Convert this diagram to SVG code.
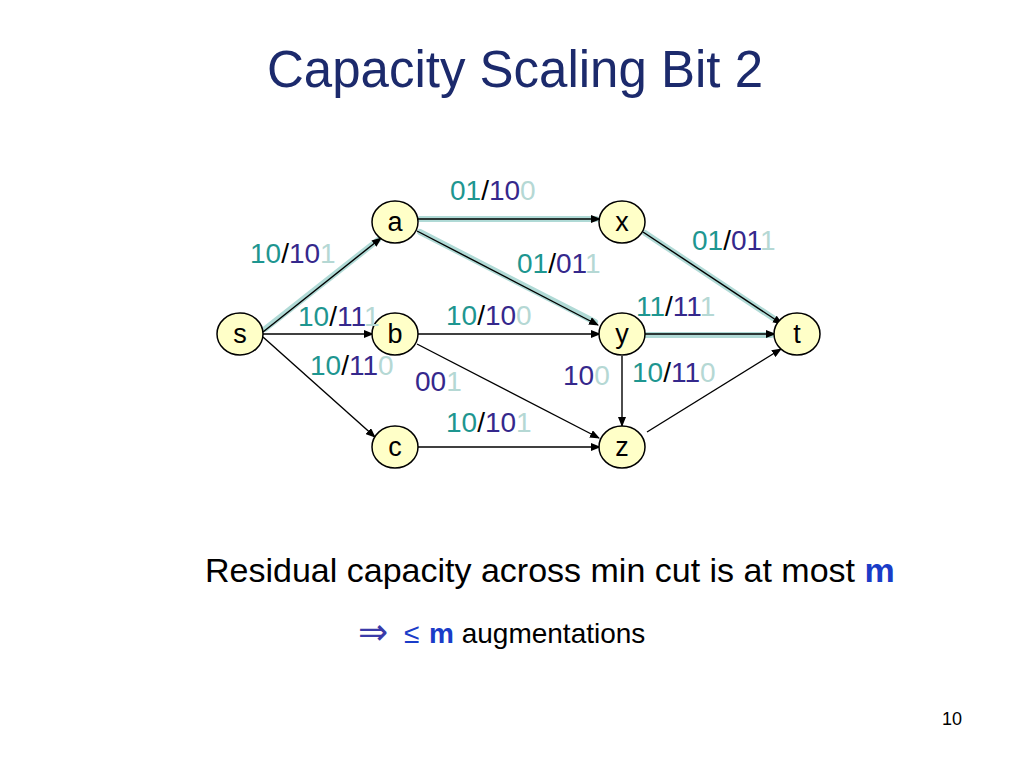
<svg xmlns="http://www.w3.org/2000/svg" width="1024" height="768" viewBox="0 0 1024 768">
<defs>
<marker id="ah" markerWidth="10" markerHeight="8" refX="9" refY="4" orient="auto" markerUnits="userSpaceOnUse">
<path d="M0,0 L10,4 L0,8 Z" fill="#000"/>
</marker>
<style>
.hl{stroke:#b0dad6;stroke-width:6;fill:none;stroke-linecap:round}
.e{stroke:#000;stroke-width:1.4;fill:none;marker-end:url(#ah)}
.n{fill:#ffffc8;stroke:#000;stroke-width:1.5}
.nt{font-family:"Liberation Sans",Arial,sans-serif;font-size:27px;text-anchor:middle;fill:#000}
.lb{font-family:"Liberation Sans",Arial,sans-serif;font-size:28px}
.g{fill:#1e9690}.k{fill:#000}.d{fill:#35288c}.l{fill:#b5d8d4}
</style>
</defs>
<rect width="1024" height="768" fill="#fff"/>
<text x="515" y="87" font-family="'Liberation Sans',Arial,sans-serif" font-size="51" text-anchor="middle" fill="#1c2a6c">Capacity Scaling Bit 2</text>
<g id="connectors">
<line class="hl" x1="265" y1="329" x2="378" y2="240"/>
<line class="hl" x1="420" y1="219" x2="596" y2="219"/>
<line class="hl" x1="420" y1="232" x2="595" y2="322"/>
<line class="hl" x1="645" y1="233" x2="776" y2="320"/>
<line class="hl" x1="646" y1="335" x2="771" y2="335"/>
<line class="e" x1="263" y1="332" x2="381" y2="238"/>
<line class="e" x1="418" y1="219" x2="600" y2="219"/>
<line class="e" x1="417" y1="231" x2="598" y2="325"/>
<line class="e" x1="643" y1="232" x2="782" y2="324"/>
<line class="e" x1="645" y1="334" x2="775" y2="334"/>
<line class="e" x1="263" y1="334" x2="373" y2="334"/>
<line class="e" x1="263" y1="337" x2="375" y2="437"/>
<line class="e" x1="418" y1="334" x2="600" y2="334"/>
<line class="e" x1="417" y1="344" x2="599" y2="438"/>
<line class="e" x1="418" y1="447" x2="600" y2="447"/>
<line class="e" x1="622" y1="356" x2="622" y2="426"/>
<line class="e" x1="647" y1="432" x2="781" y2="349"/>
</g>
<g id="node-a"><ellipse class="n" cx="395" cy="222" rx="23" ry="21"/><text class="nt" x="395" y="231">a</text></g>
<g id="node-x"><ellipse class="n" cx="622" cy="222" rx="23" ry="21"/><text class="nt" x="622" y="231">x</text></g>
<g id="node-s"><ellipse class="n" cx="240" cy="334" rx="23" ry="21"/><text class="nt" x="240" y="343">s</text></g>
<g id="node-b"><ellipse class="n" cx="395" cy="334" rx="23" ry="21"/><text class="nt" x="395" y="343">b</text></g>
<g id="node-y"><ellipse class="n" cx="622" cy="334" rx="23" ry="21"/><text class="nt" x="622" y="343">y</text></g>
<g id="node-t"><ellipse class="n" cx="797" cy="334" rx="23" ry="21"/><text class="nt" x="797" y="343">t</text></g>
<g id="node-c"><ellipse class="n" cx="395" cy="447" rx="23" ry="21"/><text class="nt" x="395" y="456">c</text></g>
<g id="node-z"><ellipse class="n" cx="622" cy="447" rx="23" ry="21"/><text class="nt" x="622" y="456">z</text></g>
<g id="labels">
<text class="lb" x="450" y="200"><tspan class="g">01</tspan><tspan class="k">/</tspan><tspan class="d">10</tspan><tspan class="l">0</tspan></text>
<text class="lb" x="250" y="263"><tspan class="g">10</tspan><tspan class="k">/</tspan><tspan class="d">10</tspan><tspan class="l">1</tspan></text>
<text class="lb" x="517" y="273"><tspan class="g">01</tspan><tspan class="k">/</tspan><tspan class="d">01</tspan><tspan class="l">1</tspan></text>
<text class="lb" x="692" y="250"><tspan class="g">01</tspan><tspan class="k">/</tspan><tspan class="d">01</tspan><tspan class="l">1</tspan></text>
<text class="lb" x="636" y="316"><tspan class="g">11</tspan><tspan class="k">/</tspan><tspan class="d">11</tspan><tspan class="l">1</tspan></text>
<text class="lb" x="298" y="326"><tspan class="g">10</tspan><tspan class="k">/</tspan><tspan class="d">11</tspan><tspan class="l">1</tspan></text>
<text class="lb" x="446" y="325"><tspan class="g">10</tspan><tspan class="k">/</tspan><tspan class="d">10</tspan><tspan class="l">0</tspan></text>
<text class="lb" x="310" y="375"><tspan class="g">10</tspan><tspan class="k">/</tspan><tspan class="d">11</tspan><tspan class="l">0</tspan></text>
<text class="lb" x="415" y="391"><tspan class="d">00</tspan><tspan class="l">1</tspan></text>
<text class="lb" x="563" y="385"><tspan class="d">10</tspan><tspan class="l">0</tspan></text>
<text class="lb" x="632" y="382"><tspan class="g">10</tspan><tspan class="k">/</tspan><tspan class="d">11</tspan><tspan class="l">0</tspan></text>
<text class="lb" x="446" y="432"><tspan class="g">10</tspan><tspan class="k">/</tspan><tspan class="d">10</tspan><tspan class="l">1</tspan></text>
</g>
<text x="205" y="582" font-family="'Liberation Sans',Arial,sans-serif" font-size="34" fill="#000">Residual capacity across min cut is at most <tspan font-weight="bold" fill="#1a3cc8">m</tspan></text>
<text x="358" y="644" font-family="'Liberation Sans',Arial,sans-serif" font-size="28" fill="#000"><tspan font-family="'DejaVu Sans',sans-serif" font-size="36" fill="#3a3aa8">⇒</tspan><tspan x="404" y="643" fill="#1a3cc8">≤</tspan><tspan x="429" y="643" font-weight="bold" fill="#1a3cc8">m</tspan><tspan y="643"> augmentations</tspan></text>
<text x="952" y="725" font-family="'Liberation Sans',Arial,sans-serif" font-size="18" text-anchor="middle" fill="#000">10</text>
</svg>
